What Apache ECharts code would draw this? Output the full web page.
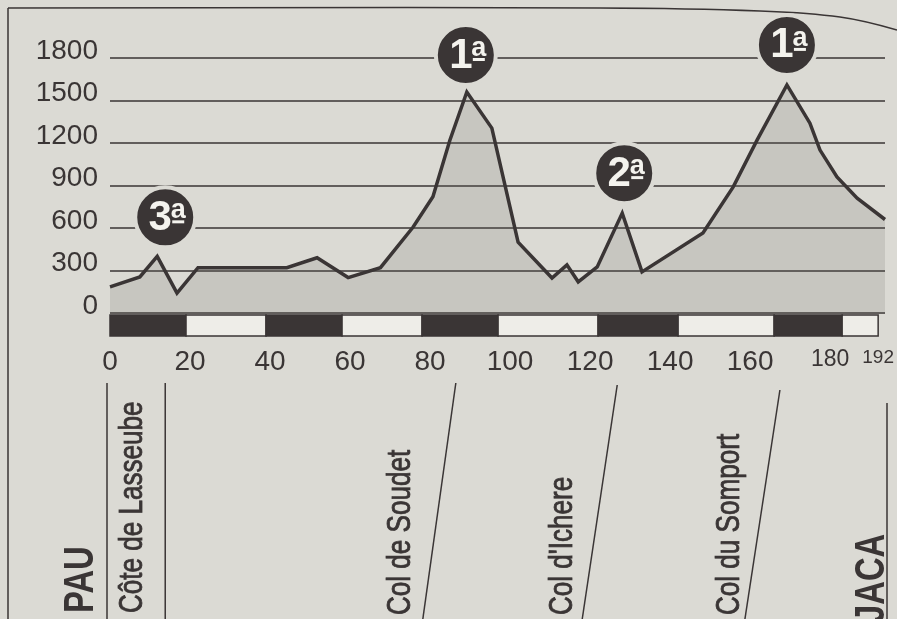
<!DOCTYPE html>
<html>
<head>
<meta charset="utf-8">
<script src="https://cdn.jsdelivr.net/npm/echarts@6/dist/echarts.min.js"></script>
<style>
html,body{margin:0;padding:0;background:#dbdad4;}
#c{width:897px;height:619px;}
</style>
</head>
<body>
<div id="c"></div>
<script>
// ---- data (km along stage, elevation in m) ----
const kmPoints  = [0, 7.4, 11.7, 16.6, 21.8, 43.8, 51.3, 59, 67, 75.1, 80, 84.2, 88.4, 94.6, 101.1, 109.5, 113.2, 116, 120.7, 126.9, 131.8, 146.9, 154.4, 160.3, 167.7, 173.4, 175.9, 180.1, 185.1, 192];
const elevation = [185, 255, 400, 140, 320, 320, 390, 250, 320, 607, 820, 1220, 1560, 1305, 500, 247, 340, 220, 325, 705, 290, 565, 890, 1220, 1610, 1340, 1150, 960, 810, 660];
const yTicks = [0, 300, 600, 900, 1200, 1500, 1800];
// climbs: category, km of summit, elevation of summit
const climbCat  = ['3', '1', '2', '1'];
const climbKm   = [11.7, 88.4, 126.9, 167.7];
const climbElev = [400, 1560, 705, 1610];
// distance band segments [start km, end km, dark?]
const bandStart = [0, 19, 39, 58, 78, 97, 122, 142, 166, 183];
const bandEnd   = [19, 39, 58, 78, 97, 122, 142, 166, 183, 192];
const bandDark  = [1, 0, 1, 0, 1, 0, 1, 0, 1, 0];
// places
const placeNames = ['PAU', 'Côte de Lasseube', 'Col de Soudet', "Col d'Ichere", 'Col du Somport', 'JACA'];
const placeKm    = [0, 11.7, 88.4, 126.9, 167.7, 192];

const FONT = "'Liberation Sans', Arial, Helvetica, sans-serif";
const INK = '#3a3535';
const PAPER = '#dbdad4';
const WHITE = '#f4f3ee';

const profile = kmPoints.map((k, i) => [k, elevation[i]]);
const band = bandStart.map((s, i) => [s, bandEnd[i], bandDark[i]]);
const badgeOffsets = [[8, -39], [-1, -37], [2, -40], [0, -40]];

// badge marks: circle with digit, plus an underlined "a" (ordinal)
const markData = [];
climbCat.forEach((c, i) => {
  const o = badgeOffsets[i];
  markData.push({name: c, coord: [climbKm[i], climbElev[i]], symbol: 'circle', symbolSize: 60, symbolOffset: o,
    itemStyle: {color: INK, borderColor: PAPER, borderWidth: 4},
    label: {show: true, formatter: c, offset: [-5, 1], color: WHITE, fontFamily: FONT, fontWeight: 'bold', fontSize: 42}});
  markData.push({name: 'a', coord: [climbKm[i], climbElev[i]], symbol: 'rect', symbolSize: [12, 3], symbolOffset: [o[0] + 13, o[1] + 4.5],
    itemStyle: {color: WHITE, borderWidth: 0},
    label: {show: true, formatter: 'a', position: 'top', distance: -4, color: WHITE, fontFamily: FONT, fontWeight: 'bold', fontSize: 27}});
});

const chart = echarts.init(document.getElementById('c'));
chart.setOption({
  animation: false,
  backgroundColor: PAPER,
  grid: [
    {left: 110, right: 12, top: 58, bottom: 306},
    {left: 110, right: 12, top: 315, height: 21}
  ],
  xAxis: [
    {gridIndex: 0, type: 'value', min: 0, max: 192, interval: 20,
     axisLine: {show: false}, axisTick: {show: false}, axisLabel: {show: false}, splitLine: {show: false}},
    {gridIndex: 1, type: 'value', min: 0, max: 192, interval: 20,
     axisLine: {show: false}, axisTick: {show: false}, splitLine: {show: false},
     axisLabel: {show: true, showMaxLabel: true, margin: 12, color: INK, fontFamily: FONT, fontSize: 28,
       formatter: v => v === 180 ? '{m|180}' : (v === 192 ? '{s|192}' : String(v)),
       rich: {m: {fontSize: 23, fontFamily: FONT, color: INK}, s: {fontSize: 19, fontFamily: FONT, color: INK}}}}
  ],
  yAxis: [
    {gridIndex: 0, type: 'value', min: 0, max: 1800, interval: 300,
     axisLine: {show: false}, axisTick: {show: false},
     axisLabel: {color: INK, fontFamily: FONT, fontSize: 28, margin: 12, verticalAlign: 'bottom', lineHeight: 14,
       formatter: v => yTicks.includes(v) ? String(v) : ''},
     splitLine: {show: true, lineStyle: {color: INK, width: 1.5}}},
    {gridIndex: 1, type: 'value', min: 0, max: 1, show: false}
  ],
  series: [
    {
      type: 'line', xAxisIndex: 0, yAxisIndex: 0, data: profile,
      showSymbol: false, symbol: 'none', smooth: false,
      lineStyle: {color: INK, width: 3.5, join: 'miter'},
      areaStyle: {color: 'rgba(110,108,100,0.25)'},
      markPoint: {data: markData, silent: true},
      z: 3
    },
    {
      type: 'custom', xAxisIndex: 1, yAxisIndex: 1, data: band,
      renderItem: (params, api) => {
        const a = api.coord([api.value(0), 1]);
        const b = api.coord([api.value(1), 0]);
        return {type: 'rect', shape: {x: a[0], y: a[1], width: b[0] - a[0], height: b[1] - a[1]},
          style: {fill: api.value(2) ? INK : '#eeede8', stroke: INK, lineWidth: 1.5}};
      },
      z: 2
    }
  ]
});

// place labels and leader lines, positioned from km on the axis
const layout = [
  {textDx: -29, topDx: -3, botDx: -3, topY: 383, textY: 613, bold: true, size: 42, sx: 0.78},
  {textDx: -24, topDx: 8, botDx: 8, topY: 383, textY: 613, bold: false, size: 33, sx: 0.79},
  {textDx: -66, topDx: -11, botDx: -44, topY: 383, textY: 615, bold: false, size: 33, sx: 0.79},
  {textDx: -59, topDx: -5, botDx: -40, topY: 385, textY: 615, bold: false, size: 33, sx: 0.79},
  {textDx: -57, topDx: -7, botDx: -42, topY: 390, textY: 615, bold: false, size: 33, sx: 0.79},
  {textDx: -13, topDx: 2, botDx: 2, topY: 403, textY: 623, bold: true, size: 42, sx: 0.78}
];
const elems = [
  {type: 'polyline', shape: {points: [[8, 8], [600, 8], [760, 11], [840, 17], [897, 30]], smooth: 0.4}, style: {stroke: INK, lineWidth: 1.5, fill: null}},
  {type: 'line', shape: {x1: 8, y1: 8, x2: 8, y2: 619}, style: {stroke: INK, lineWidth: 1.5}}
];
placeNames.forEach((name, i) => {
  const p = chart.convertToPixel({gridIndex: 0}, [placeKm[i], 0]);
  const L = layout[i];
  elems.push({type: 'line', shape: {x1: p[0] + L.topDx, y1: L.topY, x2: p[0] + L.botDx, y2: 619}, style: {stroke: INK, lineWidth: 1.5}});
  elems.push({type: 'text', x: p[0] + L.textDx, y: L.textY, rotation: Math.PI / 2, scaleX: L.sx, scaleY: 1,
    style: {text: name, fill: INK, stroke: INK, lineWidth: L.bold ? 0 : 0.8, fontFamily: FONT, fontSize: L.size, fontWeight: L.bold ? 'bold' : 'normal',
      align: 'left', verticalAlign: 'middle', textAlign: 'left', textVerticalAlign: 'middle'}});
});
chart.setOption({graphic: {elements: elems}});
</script>
</body>
</html>
